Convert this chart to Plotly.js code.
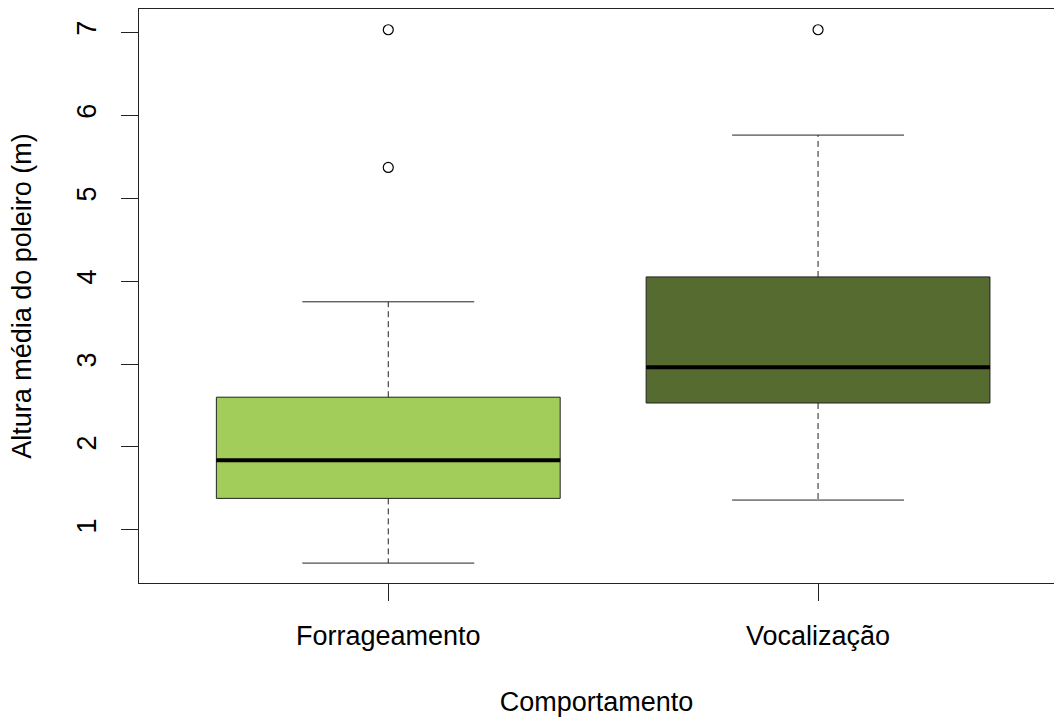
<!DOCTYPE html>
<html>
<head>
<meta charset="utf-8">
<script src="https://cdn.plot.ly/plotly-3.0.1.min.js"></script>
<style>html,body{margin:0;padding:0;background:#fff;}#chart{width:1054px;height:717px;}</style>
</head>
<body>
<div id="chart"></div>
<script>
// ---- data ----
const categories = ['Forrageamento', 'Vocalização'];
const lowerWhisker = [0.60, 1.36];
const q1 = [1.38, 2.53];
const median = [1.84, 2.96];
const q3 = [2.60, 4.05];
const upperWhisker = [3.75, 5.76];
const outliers = [[5.37, 7.03], [7.03]];
const yTicks = [1, 2, 3, 4, 5, 6, 7];

// ---- styles ----
const fills = ['#A2CD5A', '#556B2F'];
const boxWidth = 0.8;
const capHalf = 0.2;
const lineCol = '#222';
const font = 'Liberation Sans, Arial, sans-serif';
const fs = 27;

const traces = [];
categories.forEach((c, i) => {
  const x = i + 1;
  traces.push({
    type: 'box', x: [x], q1: [q1[i]], median: [median[i]], q3: [q3[i]],
    lowerfence: [q1[i]], upperfence: [q3[i]], width: boxWidth,
    whiskerwidth: 0, fillcolor: fills[i], boxpoints: false,
    line: {color: lineCol, width: 1}, showlegend: false, hoverinfo: 'skip'
  });
});
categories.forEach((c, i) => {
  const x = i + 1;
  // dashed whiskers
  traces.push({
    type: 'scatter', mode: 'lines', showlegend: false, hoverinfo: 'skip',
    x: [x, x, null, x, x], y: [q3[i], upperWhisker[i], null, q1[i], lowerWhisker[i]],
    line: {color: '#222', width: 1, dash: '6px,4px'}
  });
  // caps
  traces.push({
    type: 'scatter', mode: 'lines', showlegend: false, hoverinfo: 'skip',
    x: [x - capHalf, x + capHalf, null, x - capHalf, x + capHalf],
    y: [upperWhisker[i], upperWhisker[i], null, lowerWhisker[i], lowerWhisker[i]],
    line: {color: '#222', width: 1}
  });
  // median
  traces.push({
    type: 'scatter', mode: 'lines', showlegend: false, hoverinfo: 'skip',
    x: [x - boxWidth / 2, x + boxWidth / 2], y: [median[i], median[i]],
    line: {color: '#000', width: 4}
  });
  // outliers
  traces.push({
    type: 'scatter', mode: 'markers', showlegend: false, hoverinfo: 'skip',
    x: outliers[i].map(() => x), y: outliers[i],
    marker: {symbol: 'circle-open', size: 10, color: '#000', line: {width: 1.2, color: '#000'}}
  });
});

const layout = {
  width: 1054, height: 717,
  margin: {l: 139, r: 0, t: 9, b: 134},
  paper_bgcolor: '#fff', plot_bgcolor: '#fff',
  font: {family: font, color: '#000', size: fs},
  showlegend: false,
  xaxis: {
    range: [0.42, 2.549], tickvals: [1, 2], ticktext: categories,
    showgrid: false, zeroline: false, showline: true, mirror: true,
    linecolor: lineCol, linewidth: 1, ticks: 'outside', ticklen: 17,
    tickcolor: lineCol, ticklabelstandoff: 12,
    tickfont: {size: fs, family: font, color: '#000'},
    title: {text: 'Comportamento', font: {size: fs, family: font, color: '#000'}, standoff: 45}
  },
  yaxis: {
    range: [0.36, 7.28], tickvals: yTicks, ticktext: yTicks.map(String),
    showgrid: false, zeroline: false, showline: true, mirror: false,
    linecolor: lineCol, linewidth: 1, ticks: 'outside', ticklen: 17,
    tickcolor: lineCol, tickangle: -90, ticklabelstandoff: 14,
    tickfont: {size: fs, family: font, color: '#000'},
    title: {text: 'Altura média do poleiro (m)', font: {size: fs, family: font, color: '#000'}, standoff: 32}
  }
};

Plotly.newPlot('chart', traces, layout, {displayModeBar: false, staticPlot: true});
</script>
</body>
</html>
